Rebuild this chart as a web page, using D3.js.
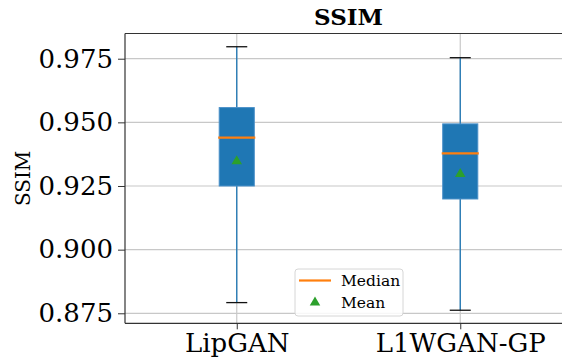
<!DOCTYPE html>
<html>
<head>
<meta charset="utf-8">
<script src="https://cdn.jsdelivr.net/npm/d3@7"></script>
<style>
  body { margin: 0; background: #fff; }
  text { font-family: "DejaVu Serif", serif; fill: #000; }
</style>
</head>
<body>
<div id="chart"></div>
<script>
// values
const categories = ["LipGAN", "L1WGAN-GP"];
const whiskerLow = [0.8792, 0.8762];
const q1 = [0.925, 0.9199];
const median = [0.944, 0.9378];
const q3 = [0.9558, 0.9494];
const whiskerHigh = [0.9797, 0.9754];
const mean = [0.9347, 0.9297];
const yTicks = [0.875, 0.9, 0.925, 0.95, 0.975];

const width = 562, height = 360;
const margin = { top: 33.5, bottom: 36.7, left: 125, right: -10 };

const svg = d3
  .select("#chart")
  .append("svg")
  .attr("width", width)
  .attr("height", height);

const x = d3
  .scaleLinear()
  .domain([0.5, 2.5])
  .range([margin.left, width - margin.right]);

const y = d3
  .scaleLinear()
  .domain([0.87107, 0.9849])
  .range([height - margin.bottom, margin.top]);

// half widths of box and caps
const boxW = x(1.0785) - x(1);
const capW = x(1.047) - x(1);

// grid lines
svg
  .append("g")
  .selectAll("line.hgrid")
  .data(yTicks)
  .enter()
  .append("line")
  .attr("x1", margin.left)
  .attr("x2", width)
  .attr("y1", (d) => y(d))
  .attr("y2", (d) => y(d))
  .attr("stroke", "#c8c8c8")
  .attr("stroke-width", 1.2);

svg
  .append("g")
  .selectAll("line.vgrid")
  .data(categories)
  .enter()
  .append("line")
  .attr("x1", (d, i) => x(i + 1))
  .attr("x2", (d, i) => x(i + 1))
  .attr("y1", margin.top)
  .attr("y2", height - margin.bottom)
  .attr("stroke", "#c8c8c8")
  .attr("stroke-width", 1.2);

// axes
const yAxis = svg
  .append("g")
  .attr("transform", "translate(" + margin.left + ",0)")
  .call(d3.axisLeft(y).tickValues(yTicks).tickFormat(d3.format(".3f")).tickSize(7).tickPadding(5));
yAxis.select(".domain").remove();
yAxis.selectAll(".tick line").attr("stroke", "#333");
yAxis.selectAll(".tick text").style("font-size", "26px").attr("font-family", "DejaVu Serif");

const xAxis = svg
  .append("g")
  .attr("transform", "translate(0," + (height - margin.bottom) + ")")
  .call(d3.axisBottom(x).tickValues([1, 2]).tickFormat((d) => categories[d - 1]).tickSize(6).tickPadding(4));
xAxis.select(".domain").remove();
xAxis.selectAll(".tick line").attr("stroke", "#333");
xAxis.selectAll(".tick text").style("font-size", "26px").attr("font-family", "DejaVu Serif");

// boxes
const g = svg.append("g");
categories.forEach(function (c, i) {
  const cx = x(i + 1);
  // whiskers
  g.append("line")
    .attr("x1", cx).attr("x2", cx)
    .attr("y1", y(whiskerLow[i])).attr("y2", y(q1[i]))
    .attr("stroke", "#1f77b4").attr("stroke-width", 1.3);
  g.append("line")
    .attr("x1", cx).attr("x2", cx)
    .attr("y1", y(q3[i])).attr("y2", y(whiskerHigh[i]))
    .attr("stroke", "#1f77b4").attr("stroke-width", 1.3);
  // caps
  [whiskerLow[i], whiskerHigh[i]].forEach(function (v) {
    g.append("line")
      .attr("x1", cx - capW).attr("x2", cx + capW)
      .attr("y1", y(v)).attr("y2", y(v))
      .attr("stroke", "#111").attr("stroke-width", 1.3);
  });
  // box
  g.append("rect")
    .attr("x", cx - boxW)
    .attr("y", y(q3[i]))
    .attr("width", boxW * 2)
    .attr("height", y(q1[i]) - y(q3[i]))
    .attr("fill", "#1f77b4")
    .attr("stroke", "#4a90c8")
    .attr("stroke-width", 1);
  // median
  g.append("line")
    .attr("x1", cx - boxW - 1).attr("x2", cx + boxW + 1)
    .attr("y1", y(median[i])).attr("y2", y(median[i]))
    .attr("stroke", "#ff7f0e").attr("stroke-width", 2.2);
  // mean
  g.append("path")
    .attr("d", d3.symbol(d3.symbolTriangle, 48)())
    .attr("transform", "translate(" + cx + "," + y(mean[i]) + ")")
    .attr("fill", "#2ca02c");
});

// spines (left, top, bottom)
svg.append("line")
  .attr("x1", margin.left).attr("x2", margin.left)
  .attr("y1", margin.top).attr("y2", height - margin.bottom)
  .attr("stroke", "#333").attr("stroke-width", 1.2);
svg.append("line")
  .attr("x1", margin.left).attr("x2", width)
  .attr("y1", margin.top).attr("y2", margin.top)
  .attr("stroke", "#333").attr("stroke-width", 1.2);
svg.append("line")
  .attr("x1", margin.left).attr("x2", width)
  .attr("y1", height - margin.bottom).attr("y2", height - margin.bottom)
  .attr("stroke", "#333").attr("stroke-width", 1.2);

// title + y label
svg.append("text")
  .attr("x", (x(0.5) + x(2.5)) / 2)
  .attr("y", 25)
  .attr("text-anchor", "middle")
  .style("font-size", "23px")
  .style("font-weight", "bold")
  .text("SSIM");

svg.append("text")
  .attr("transform", "translate(30," + (margin.top + height - margin.bottom) / 2 + ") rotate(-90)")
  .attr("text-anchor", "middle")
  .style("font-size", "20px")
  .text("SSIM");

// legend
const legend = svg.append("g").attr("transform", "translate(295,269)");
legend.append("rect")
  .attr("width", 108).attr("height", 47).attr("rx", 3)
  .attr("fill", "#fff").attr("fill-opacity", 0.85)
  .attr("stroke", "#d6d6d6").attr("stroke-width", 1);
legend.append("line")
  .attr("x1", 4).attr("x2", 36).attr("y1", 11.5).attr("y2", 11.5)
  .attr("stroke", "#ff7f0e").attr("stroke-width", 2.2);
legend.append("path")
  .attr("d", d3.symbol(d3.symbolTriangle, 48)())
  .attr("transform", "translate(20,33.5)")
  .attr("fill", "#2ca02c");
legend.append("text").attr("x", 46).attr("y", 17).style("font-size", "15.5px").text("Median");
legend.append("text").attr("x", 46).attr("y", 39).style("font-size", "15.5px").text("Mean");
</script>
</body>
</html>
